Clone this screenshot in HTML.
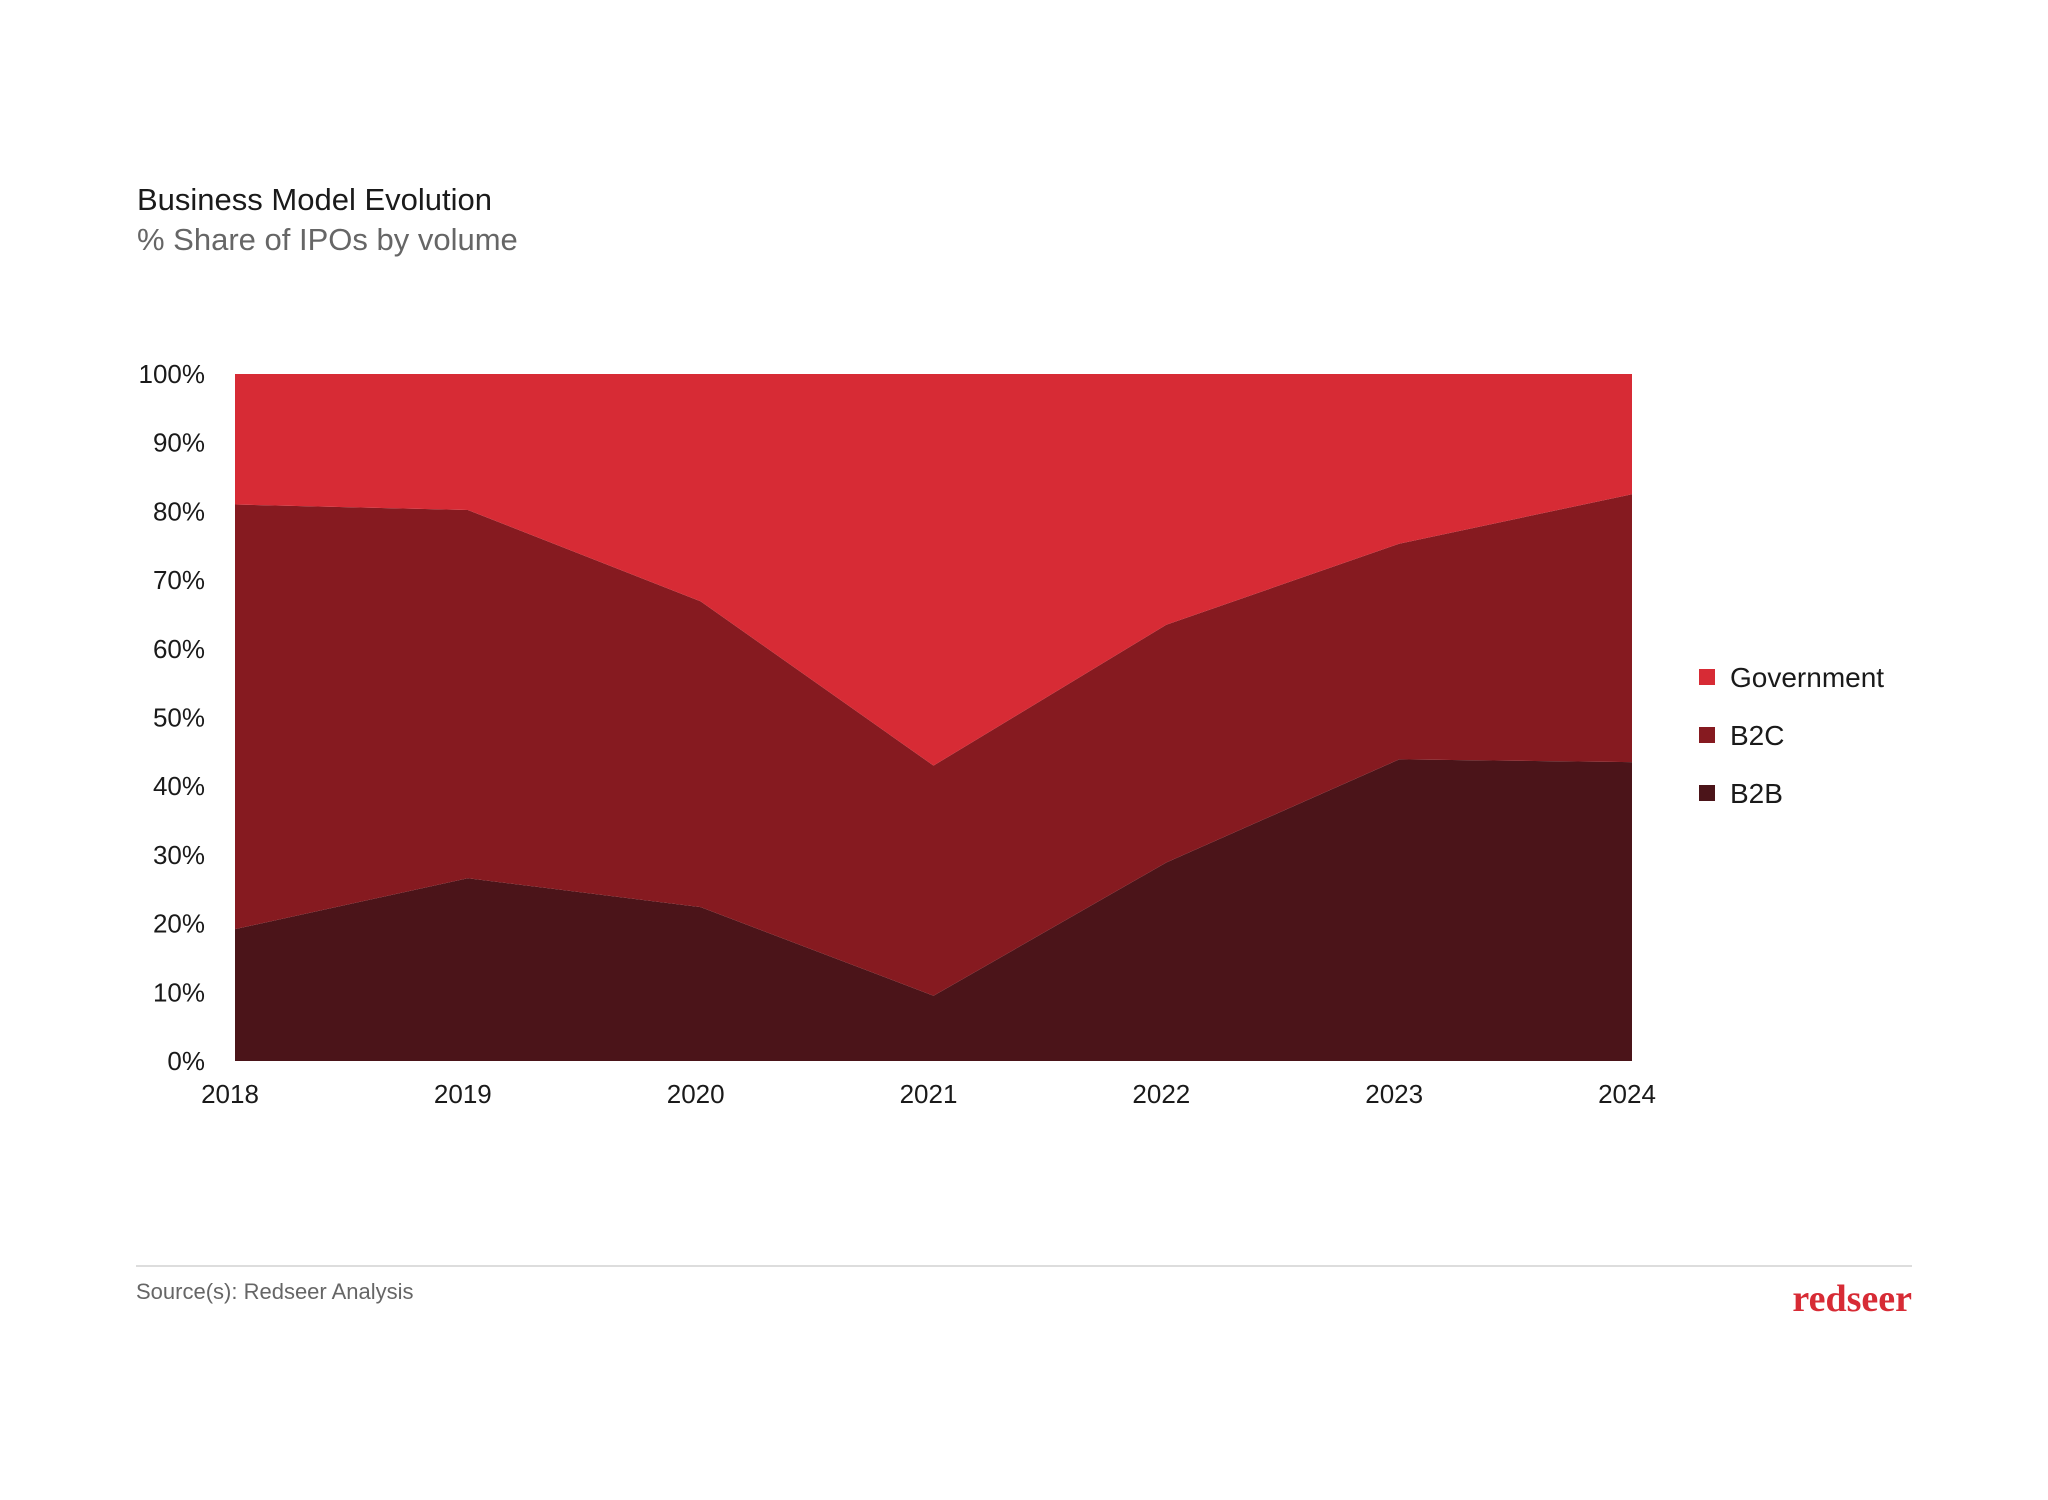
<!DOCTYPE html>
<html><head><meta charset="utf-8"><style>
body{margin:0;background:#fff;}
svg text{font-family:"Liberation Sans",sans-serif;}
</style></head><body>
<svg width="2048" height="1495" viewBox="0 0 2048 1495" xmlns="http://www.w3.org/2000/svg">
<text x="137" y="210" font-size="31" fill="#1a1a1a">Business Model Evolution</text>
<text x="137" y="250" font-size="31" fill="#666">% Share of IPOs by volume</text>
<g id="plot"></g>
<g id="yaxis"></g>
<g id="xaxis"></g>
<g id="legend"></g>
<line x1="136" y1="1266" x2="1912" y2="1266" stroke="#ddd" stroke-width="2"/>
<text x="136" y="1299" font-size="22" fill="#666">Source(s): Redseer Analysis</text>
<text x="1912" y="1311" font-size="38" font-weight="bold" fill="#d72b35" text-anchor="end" style="font-family:'Liberation Serif',serif">redseer</text>
</svg>
<script>
const years = ['2018','2019','2020','2021','2022','2023','2024'];
const b2b = [19.2, 26.6, 22.4, 9.5, 28.9, 43.9, 43.5];
const b2c = [61.8, 53.6, 44.5, 33.5, 34.6, 31.4, 39.0];
const gov = [19.0, 19.8, 33.1, 57.0, 36.5, 24.7, 17.5];
const yTicks = [0,10,20,30,40,50,60,70,80,90,100];
const seriesNames = ['Government','B2C','B2B'];
const seriesColors = ['#d72b35','#861a20','#4b1419'];

const L=235,R=1632,T=374,B=1061;
const NS='http://www.w3.org/2000/svg';
const xs=i=>L+(R-L)*i/(years.length-1);
const ys=v=>B-(B-T)*v/100;
function mk(tag,attrs,parent){const e=document.createElementNS(NS,tag);for(const k in attrs)e.setAttribute(k,attrs[k]);parent.appendChild(e);return e;}
const plot=document.getElementById('plot');
const stacks=[b2b,b2c,gov];
const names=['b2b','b2c','government'];
const cols=['#4b1419','#861a20','#d72b35'];
let base=years.map(()=>0);
stacks.forEach((s,k)=>{
  const top=base.map((b,i)=>b+s[i]);
  let d='';
  top.forEach((v,i)=>{d+=(i?'L':'M')+xs(i)+','+ys(v);});
  for(let i=years.length-1;i>=0;i--)d+='L'+xs(i)+','+ys(base[i]);
  const p=mk('path',{d:d+'Z',fill:cols[k]},plot);
  
  
  base=top;
});
const ya=document.getElementById('yaxis');
yTicks.forEach(t=>{
  const e=mk('text',{x:205,y:ys(t)+9,'font-size':26,fill:'#1a1a1a','text-anchor':'end'},ya);
  e.textContent=t+'%';
  
  
});
const xa=document.getElementById('xaxis');
years.forEach((y,i)=>{
  const e=mk('text',{x:xs(i)-5,y:1103,'font-size':26,fill:'#1a1a1a','text-anchor':'middle'},xa);
  e.textContent=y;
  
  
});
const lg=document.getElementById('legend');
seriesNames.forEach((n,i)=>{
  const y=677+i*58;
  const r=mk('rect',{x:1699,y:y-8,width:16,height:16,fill:seriesColors[i]},lg);
  
  
  const t=mk('text',{x:1730,y:y+10,'font-size':28,fill:'#1a1a1a'},lg);
  t.textContent=n;
  
  
});
</script>
</body></html>
